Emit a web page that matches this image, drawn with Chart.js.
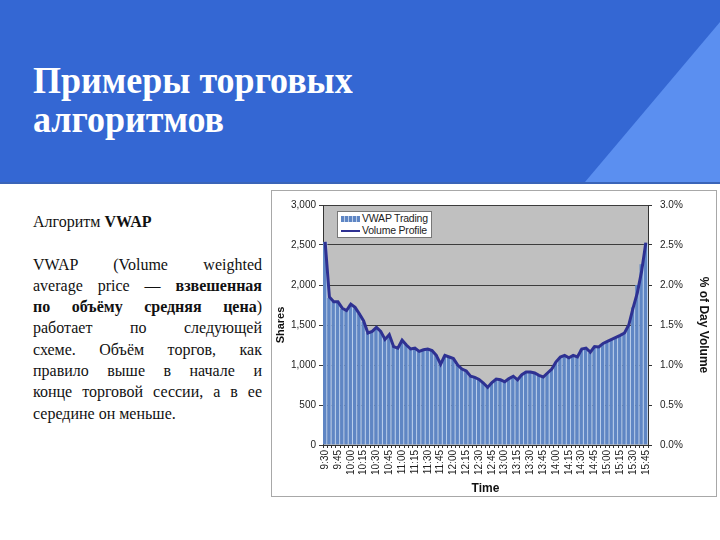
<!DOCTYPE html>
<html>
<head>
<meta charset="utf-8">
<script src="https://cdn.jsdelivr.net/npm/chart.js@4.4.1/dist/chart.umd.min.js"></script>
<style>
  html, body { margin: 0; padding: 0; }
  body { width: 720px; height: 540px; position: relative; overflow: hidden; background: #ffffff; font-family: "Liberation Serif", "DejaVu Serif", serif; }
  #banner { position: absolute; left: 0; top: 0; width: 720px; height: 182px; background: #3467d3; }
  #tri { position: absolute; left: 0; top: 0; width: 720px; height: 182px; }
  #bannerLine { position: absolute; left: 0; top: 182px; width: 720px; height: 2px; background: #3a64b8; }
  #title { position: absolute; left: 33px; top: 61px; color: #fff; font-family: "Liberation Serif", serif; font-weight: bold; font-size: 36px; line-height: 36px; white-space: nowrap; transform: scaleY(1.08); transform-origin: 0 0; }
  #text { position: absolute; left: 33px; top: 211px; width: 229px; color: #111; font-size: 16px; line-height: 21.3px; }
  #text .ln { display: block; text-align: justify; text-align-last: justify; white-space: nowrap; }
  #text .last { text-align-last: left; }
  #box { position: absolute; left: 271px; top: 190px; width: 444px; height: 305px; border: 1px solid #a8a8a8; background: #fff; }
  #chartWrap { position: absolute; left: 0; top: 0; width: 444px; height: 305px; }
  #legend { position: absolute; left: 65px; top: 20px; width: 93px; height: 25px; background: #fff; border: 1px solid #777; font-family: "Liberation Sans", Arial, sans-serif; font-size: 10.5px; letter-spacing: -0.2px; color: #222; }
  #legend .it { position: absolute; left: 3px; height: 12px; line-height: 12px; white-space: nowrap; }
  #legend .sw { display: inline-block; vertical-align: middle; width: 19px; margin-right: 2px; }
</style>
</head>
<body>
<div id="banner"></div>
<svg id="tri" width="720" height="182"><polygon points="720,22 720,182 585,182" fill="#5b8ff0"/></svg>
<div id="bannerLine"></div>
<div id="title">Примеры торговых<br>алгоритмов</div>
<div id="text">
  <span class="ln last">Алгоритм <b>VWAP</b></span>
  <span class="ln last">&nbsp;</span>
  <span class="ln">VWAP (Volume weighted</span>
  <span class="ln">average price — <b>взвешенная</b></span>
  <span class="ln"><b>по объёму средняя цена</b>)</span>
  <span class="ln">работает по следующей</span>
  <span class="ln">схеме. Объём торгов, как</span>
  <span class="ln">правило выше в начале и</span>
  <span class="ln">конце торговой сессии, а в ее</span>
  <span class="ln last">середине он меньше.</span>
</div>
<div id="box">
  <div id="chartWrap"><canvas id="c" width="444" height="305"></canvas></div>
  <div id="legend">
    <div class="it" style="top:0px"><span class="sw" style="height:6px;background:repeating-linear-gradient(90deg,#5f86c4 0 3px,#b9cde9 3px 4px);"></span>VWAP Trading</div>
    <div class="it" style="top:12px"><span class="sw" style="height:2px;background:#2e3192;"></span>Volume Profile</div>
  </div>
</div>
<script>
const times = ["9:30","9:35","9:40","9:45","9:50","9:55","10:00","10:05","10:10","10:15","10:20","10:25",
  "10:30","10:35","10:40","10:45","10:50","10:55","11:00","11:05","11:10","11:15","11:20","11:25",
  "11:30","11:35","11:40","11:45","11:50","11:55","12:00","12:05","12:10","12:15","12:20","12:25",
  "12:30","12:35","12:40","12:45","12:50","12:55","13:00","13:05","13:10","13:15","13:20","13:25",
  "13:30","13:35","13:40","13:45","13:50","13:55","14:00","14:05","14:10","14:15","14:20","14:25",
  "14:30","14:35","14:40","14:45","14:50","14:55","15:00","15:05","15:10","15:15","15:20","15:25",
  "15:30","15:35","15:40","15:45"];

// VWAP Trading (shares per 5-minute bin)
const vwapShares = [2540,1840,1790,1780,1700,1690,1760,1710,1640,1540,1400,1420,
  1460,1420,1330,1370,1240,1210,1310,1250,1200,1220,1170,1190,
  1200,1180,1120,1020,1120,1100,1070,1000,950,930,860,850,
  820,780,730,780,820,820,790,840,860,820,880,920,
  910,900,870,850,900,950,1040,1090,1120,1090,1110,1100,
  1200,1220,1150,1230,1220,1270,1300,1320,1340,1370,1400,1490,
  1720,2000,2260,2520];

// Volume Profile (% of day volume)
const volumeProfile = [2.54,1.85,1.79,1.79,1.71,1.68,1.76,1.72,1.64,1.55,1.40,1.42,
  1.47,1.42,1.32,1.38,1.23,1.21,1.31,1.25,1.20,1.21,1.17,1.19,
  1.20,1.18,1.12,1.01,1.12,1.10,1.08,1.00,0.95,0.925,0.86,0.845,
  0.82,0.775,0.72,0.78,0.825,0.815,0.79,0.83,0.86,0.815,0.88,0.913,
  0.913,0.90,0.87,0.85,0.90,0.95,1.04,1.10,1.12,1.09,1.12,1.10,
  1.20,1.212,1.16,1.23,1.225,1.27,1.295,1.32,1.345,1.37,1.40,1.50,
  1.71,1.90,2.17,2.53];

const sharesTicks = [0,500,1000,1500,2000,2500,3000];

const plotBg = {
  id: 'plotBg',
  beforeDraw(chart) {
    const a = chart.chartArea, ctx = chart.ctx;
    ctx.save();
    ctx.fillStyle = '#c0c0c0';
    ctx.fillRect(a.left, a.top, a.right - a.left, a.bottom - a.top);
    ctx.restore();
  }
};

const tickFont = { family: '"Liberation Sans", Arial, sans-serif', size: 10 };
const titleFont = { family: '"Liberation Sans", Arial, sans-serif', size: 11, weight: 'bold' };

new Chart(document.getElementById('c'), {
  data: {
    labels: times,
    datasets: [
      {
        type: 'line', label: 'Volume Profile', data: volumeProfile, yAxisID: 'yPct',
        borderColor: '#2e3192', borderWidth: 3, pointRadius: 0, tension: 0, order: 0
      },
      {
        type: 'bar', label: 'VWAP Trading', data: vwapShares, yAxisID: 'yShares',
        backgroundColor: '#5f86c4', borderColor: '#bcd0ec',
        borderWidth: { left: 0, right: 1.3, top: 0, bottom: 0 }, borderSkipped: false,
        barPercentage: 1, categoryPercentage: 1, order: 1
      }
    ]
  },
  options: {
    responsive: false, animation: false,
    layout: { padding: { top: 13, left: 0, right: 0, bottom: 0 } },
    plugins: { legend: { display: false }, tooltip: { enabled: false } },
    scales: {
      x: {
        offset: true,
        grid: { display: true, drawOnChartArea: false, drawTicks: true, tickLength: 3, color: '#333', offset: true },
        border: { color: '#333' },
        ticks: {
          autoSkip: false, maxRotation: 90, minRotation: 90, padding: 2, color: '#222', font: tickFont,
          callback: function(v, i) { return i % 3 === 0 ? times[i] : ''; }
        },
        title: { display: true, text: 'Time', color: '#111', font: { family: '"Liberation Sans", Arial, sans-serif', size: 12, weight: 'bold' }, padding: { top: 0, bottom: 0 } },
        afterFit(s) { s.height = 51; }
      },
      yShares: {
        position: 'left', min: 0, max: 3000,
        afterBuildTicks(s) { s.ticks = sharesTicks.map(v => ({ value: v })); },
        grid: { color: '#3c3c3c', drawTicks: true, tickLength: 4 },
        border: { color: '#333' },
        ticks: { color: '#222', font: tickFont, padding: 3, callback: v => v.toLocaleString('en-US') },
        title: { display: true, text: 'Shares', color: '#111', font: titleFont, padding: { top: 2, bottom: 0 } },
        afterFit(s) { s.width = 51; }
      },
      yPct: {
        position: 'right', min: 0, max: 3,
        ticks: { stepSize: 0.5, color: '#222', font: tickFont, padding: 8, callback: v => v.toFixed(1) + '%' },
        grid: { drawOnChartArea: false, drawTicks: true, tickLength: 4, color: '#333' },
        border: { color: '#333' },
        title: { display: true, text: '% of Day Volume', color: '#111', font: { family: '"Liberation Sans", Arial, sans-serif', size: 12, weight: 'bold' }, padding: { top: 5, bottom: 0 } },
        afterFit(s) { s.width = 68; }
      }
    }
  },
  plugins: [plotBg]
});
</script>
</body>
</html>
